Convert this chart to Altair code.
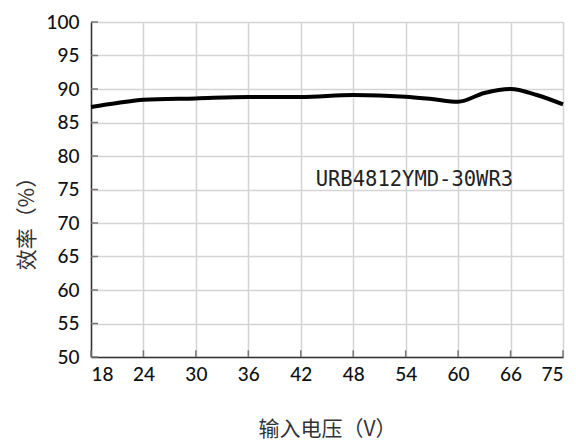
import altair as alt
import pandas as pd

# Input voltage (V) and efficiency (%)
voltage = [18, 21, 24, 30, 36, 42, 48, 54, 57, 60, 63, 66, 70.5, 75]
efficiency = [87.3, 87.9, 88.4, 88.6, 88.8, 88.8, 89.1, 88.85, 88.5, 88.1, 89.4, 90.0, 89.1, 87.7]

x_ticks = [18, 24, 30, 36, 42, 48, 54, 60, 66, 75]
y_ticks = [50, 55, 60, 65, 70, 75, 80, 85, 90, 95, 100]

label_text = ["URB4812YMD-30WR3"]
label_x = [55.0]
label_y = [76.4]

W, H = 472, 335

df = pd.DataFrame({"v": voltage, "eff": efficiency})
lab = pd.DataFrame({"v": label_x, "eff": label_y, "t": label_text})
xt = pd.DataFrame({"v": x_ticks, "eff": [50] * len(x_ticks), "y1": [51] * len(x_ticks)})
yt = pd.DataFrame({"eff": y_ticks, "v": [18] * len(y_ticks), "x1": [18.8] * len(y_ticks)})

xscale = alt.Scale(domain=[18, 66, 75], range=[0, W * 8 / 9, W], nice=False, zero=False)
yscale = alt.Scale(domain=[50, 100], nice=False, zero=False)

xaxis = alt.Axis(
    values=x_ticks, title="输入电压（V）", grid=True, gridColor="#d4d4d4", gridWidth=1.5,
    domainColor="#333333", domainWidth=1.5, ticks=False, labelOverlap=False,
    labelFont="Lato", labelFontSize=19, labelFontWeight=500, labelColor="#111111", labelPadding=8,
    titleFont="Noto Sans CJK SC", titleFontSize=21, titleFontWeight="normal",
    titleColor="#333333", titlePadding=34,
)
yaxis = alt.Axis(
    values=y_ticks, title="效率（%）", grid=True, gridColor="#d4d4d4", gridWidth=1.5,
    domainColor="#333333", domainWidth=1.5, ticks=False, labelOverlap=False,
    labelFont="Lato", labelFontSize=19, labelFontWeight=500, labelColor="#111111", labelPadding=12,
    titleFont="Noto Sans CJK SC", titleFontSize=21, titleFontWeight="normal",
    titleColor="#333333", titlePadding=8, titleY=196,
)

X = alt.X("v:Q", scale=xscale, axis=xaxis)
Y = alt.Y("eff:Q", scale=yscale, axis=yaxis)

line = alt.Chart(df).mark_line(color="black", strokeWidth=4, interpolate="monotone").encode(x=X, y=Y)

xtick_marks = alt.Chart(xt).mark_rule(color="#777777", strokeWidth=1.5).encode(
    x=X, y=Y, y2="y1:Q",
)
ytick_marks = alt.Chart(yt).mark_rule(color="#777777", strokeWidth=1.5).encode(
    y=Y, x=X, x2="x1:Q",
)

text = alt.Chart(lab).mark_text(
    font="DejaVu Sans Mono", fontSize=20.5, color="#222222", align="center", baseline="middle"
).encode(x=X, y=Y, text="t:N")

chart = (line + xtick_marks + ytick_marks + text).properties(
    width=W, height=H,
    autosize=alt.AutoSizeParams(type="none"),
    padding={"left": 83, "top": 14, "right": 5, "bottom": 88},
).configure_view(stroke="#d4d4d4", strokeWidth=1.5).configure(background="white")

chart.save("out.html", embed_options={"renderer": "svg", "actions": False})
